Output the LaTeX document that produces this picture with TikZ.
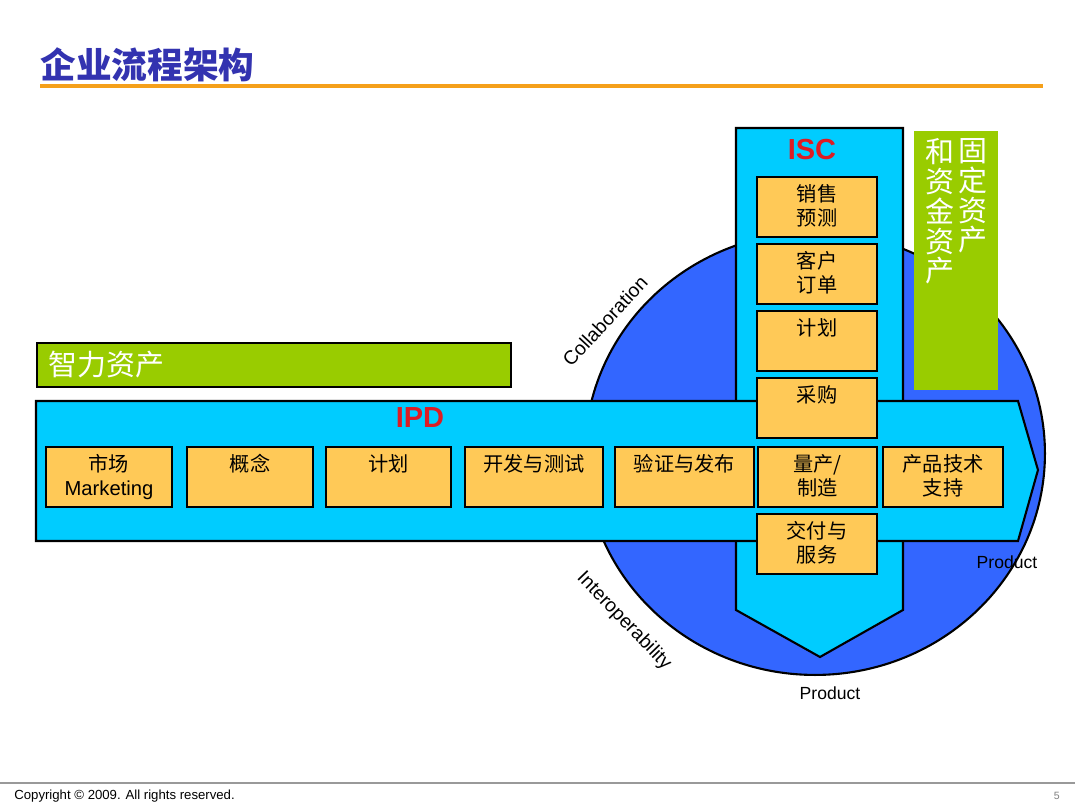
\documentclass[tikz,border=0pt]{standalone}
\usepackage{fontspec}
\setmainfont{Liberation Sans}
\newfontfamily\cjk{Noto Sans CJK SC}
\definecolor{ttl}{HTML}{3333B0}
\definecolor{org}{HTML}{F5A01A}
\definecolor{grn}{HTML}{99CC00}
\definecolor{cyn}{HTML}{00CCFF}
\definecolor{blu}{HTML}{3366FF}
\definecolor{ylw}{HTML}{FFC957}
\definecolor{rd}{HTML}{DD1C24}
\tikzset{
  ybox/.style={draw=black, line width=1.5pt, fill=ylw, inner sep=0pt, outer sep=0pt},
  ytxt/.style={anchor=north, inner sep=0pt, align=center, font=\fontsize{11.5}{13.6}\selectfont\cjk},
  arrowshape/.style={draw=black, line width=1.2pt, fill=cyn, line join=miter},
  redlbl/.style={text=rd, font=\fontsize{16.5}{18}\selectfont\bfseries, inner sep=0pt},
  sidelbl/.style={font=\fontsize{11}{13}\selectfont, inner sep=0pt},
  prodlbl/.style={font=\fontsize{10}{12}\selectfont, inner sep=0pt},
  wtxt/.style={text=white, inner sep=0pt, font=\fontsize{16.5}{17}\selectfont\cjk, align=center},
}
\newcommand\yb[6]{%
  \node[ybox, minimum width={(#4-#2)*0.02cm}, minimum height={(#5-#3)*0.02cm}] (#1) at ({(#2+#4)/2},{(#3+#5)/2}) {};
  \node[ytxt] (#1t) at ([yshift=-4pt]#1.north) {#6};}
\begin{document}
\begin{tikzpicture}[x=0.02cm,y=-0.02cm]
\useasboundingbox (0,0) rectangle (1080,810);
\fill[white] (0,0) rectangle (1080,810);
% title
\node[anchor=west, inner sep=0pt, text=ttl, font=\fontsize{20.3}{22}\selectfont\cjk\bfseries] (title) at (40,65) {企业流程架构};
\draw[org, line width=2.3pt] (40,86) -- (1043,86);
% circle
\draw[black, line width=1.2pt, fill=blu] (815,453.5) ellipse [x radius=4.6cm, y radius=4.43cm];
% ISC arrow
\draw[arrowshape] (736,128) -- (903,128) -- (903,610) -- (820,657) -- (736,610) -- cycle;
% IPD arrow
\draw[arrowshape] (36,401) -- (1018,401) -- (1038,470) -- (1018,541) -- (36,541) -- cycle;
\node[redlbl] (ipd) at (420,418) {IPD};
\node[redlbl] (isc) at (812,150) {ISC};
% IPD boxes
\yb{m1}{46}{447}{172}{507}{市场\\{\rmfamily Marketing}}
\yb{m2}{187}{447}{313}{507}{概念}
\yb{m3}{326}{447}{451}{507}{计划}
\yb{m4}{465}{447}{603}{507}{开发与测试}
\yb{m5}{615}{447}{754}{507}{验证与发布}
\yb{m6}{758}{447}{877}{507}{量产/\\制造}
\yb{m7}{883}{447}{1003}{507}{产品技术\\支持}
% ISC boxes
\yb{s1}{757}{177}{877}{237}{销售\\预测}
\yb{s2}{757}{244}{877}{304}{客户\\订单}
\yb{s3}{757}{311}{877}{371}{计划}
\yb{s4}{757}{378}{877}{438}{采购}
\yb{s5}{757}{514}{877}{574}{交付与\\服务}
% green boxes
\node[draw=black, line width=0.8pt, fill=grn, inner sep=0pt, minimum width=9.48cm, minimum height=0.88cm] (ip) at (274,365) {};
\node[wtxt, anchor=west] (ipt) at (48,365) {智力资产};
\node[fill=grn, inner sep=0pt, minimum width=1.68cm, minimum height=5.18cm] (fa) at (956,260.5) {};
\node[wtxt, anchor=north] (fat1) at (973,138) {固\\定\\资\\产};
\node[wtxt, anchor=north] (fat2) at (940,138) {和\\资\\金\\资\\产};
% side labels
\node[sidelbl, rotate=47] (col) at (605,321) {Collaboration};
\node[sidelbl, rotate=-46] (inter) at (624,621) {Interoperability};
\node[prodlbl] (p1) at (830,693) {Product};
\node[prodlbl] (p2) at (1007,562) {Product};
% footer
\draw[gray!80, line width=0.6pt] (0,783) -- (1075,783);
\node[anchor=west, inner sep=0pt, font=\fontsize{7.5}{9}\selectfont] (copy) at (14,796) {Copyright © 2009. All rights reserved.};
\node[anchor=east, inner sep=0pt, text=gray, font=\fontsize{6}{7}\selectfont] (pg) at (1060,796) {5};
\end{tikzpicture}
\end{document}
